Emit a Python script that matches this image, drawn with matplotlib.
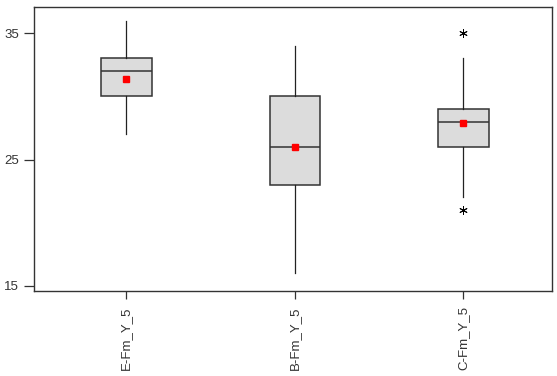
import matplotlib
matplotlib.use("Agg")
import matplotlib.pyplot as plt

plt.rcParams['font.family'] = ['Liberation Sans', 'DejaVu Sans']

# box plot summary statistics
labels = ['E-Fm_Y_5', 'B-Fm_Y_5', 'C-Fm_Y_5']
whis_lo = [27, 16, 22]
q1 = [30, 23, 26]
medians = [32, 26, 28]
q3 = [33, 30, 29]
whis_hi = [36, 34, 33]
means = [31.4, 26.0, 27.9]
fliers = [[], [], [21, 35]]

stats = []
for i in range(len(labels)):
    stats.append({
        'label': labels[i], 'whislo': whis_lo[i], 'q1': q1[i], 'med': medians[i],
        'q3': q3[i], 'whishi': whis_hi[i], 'mean': means[i], 'fliers': fliers[i],
    })

fig = plt.figure(figsize=(5.57, 3.76), dpi=100)
ax = fig.add_axes([0.061, 0.226, 0.930, 0.755])

edge = '#333333'
ax.bxp(stats, positions=[1, 2, 3], widths=0.3, patch_artist=True,
       showmeans=True, showcaps=False,
       boxprops=dict(facecolor='#dcdcdc', edgecolor=edge, linewidth=1.1),
       medianprops=dict(color=edge, linewidth=1.1),
       whiskerprops=dict(color='#222222', linewidth=0.9),
       meanprops=dict(marker='s', markerfacecolor='red', markeredgecolor='red',
                      markersize=4.5),
       flierprops=dict(marker=(6, 2, 0), markeredgecolor='black',
                       markerfacecolor='black', markersize=6, markeredgewidth=0.7))

ax.set_xlim(0.452, 3.526)
ax.set_ylim(14.6, 37.06)
ax.set_yticks([15, 25, 35])
ax.set_xticks([1, 2, 3])
ax.set_xticklabels(labels, rotation=90)
ax.tick_params(axis='y', length=7.2, width=0.9, pad=3.6)
ax.tick_params(axis='x', length=6, width=0.9, pad=5)
ax.tick_params(axis='both', colors='#333333', labelsize=9.5, labelcolor='#333333')
for s in ax.spines.values():
    s.set_color('#333333')
    s.set_linewidth(1.0)

fig.savefig('out.png', dpi=100)
